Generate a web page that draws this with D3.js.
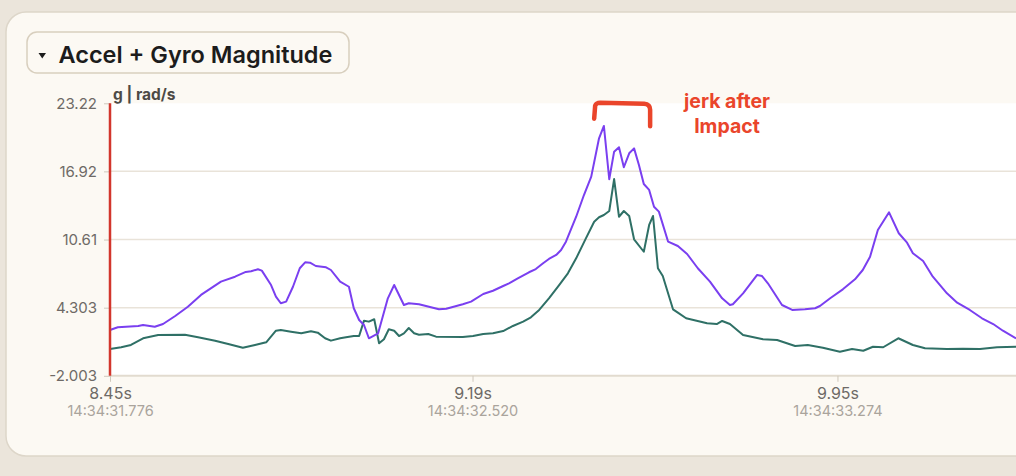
<!DOCTYPE html>
<html><head><meta charset="utf-8">
<script src="https://cdn.jsdelivr.net/npm/d3@7"></script>
<style>
html,body{margin:0;padding:0;background:#ebe5db;overflow:hidden;}
svg{display:block;}
</style></head>
<body><svg id="chart" width="1016" height="476"></svg>
<script>
// ---- data ----
const title = "Accel + Gyro Magnitude";
const unitLabel = "g | rad/s";
const annotationLines = ["jerk after", "Impact"];

const yTicks = [-2.003, 4.303, 10.61, 16.92, 23.22];
const yTickLabels = ["-2.003", "4.303", "10.61", "16.92", "23.22"];
const xTicks = [8.45, 9.195, 9.945];
const xTickLabels = ["8.45s", "9.19s", "9.95s"];
const xClockLabels = ["14:34:31.776", "14:34:32.520", "14:34:33.274"];

// purple series (gyro magnitude)
const gyroT = [8.450,8.466,8.508,8.518,8.542,8.559,8.584,8.610,8.637,8.678,8.707,8.729,8.740,8.754,8.762,8.781,8.791,8.801,8.812,8.826,8.840,8.851,8.861,8.873,8.894,8.904,8.923,8.941,8.951,8.962,8.972,8.982,9.001,9.021,9.034,9.054,9.064,9.085,9.126,9.141,9.175,9.192,9.217,9.237,9.258,9.270,9.288,9.311,9.325,9.340,9.352,9.367,9.377,9.387,9.408,9.424,9.439,9.455,9.465,9.476,9.486,9.496,9.506,9.517,9.527,9.537,9.547,9.558,9.568,9.578,9.597,9.617,9.636,9.658,9.683,9.708,9.724,9.730,9.751,9.780,9.790,9.802,9.831,9.852,9.878,9.899,9.909,9.930,9.956,9.981,9.997,10.012,10.028,10.051,10.071,10.088,10.100,10.121,10.141,10.170,10.191,10.217,10.242,10.265,10.285,10.312];
const gyroV = [2.24,2.49,2.61,2.70,2.54,2.79,3.53,4.39,5.48,6.71,7.17,7.61,7.67,7.86,7.73,6.40,5.32,4.71,4.86,6.24,7.95,8.50,8.47,8.16,8.04,7.79,6.71,6.24,4.25,3.16,2.70,1.47,1.93,5.17,6.40,4.55,4.71,4.62,4.15,4.21,4.62,4.86,5.57,5.87,6.31,6.56,7.02,7.58,7.88,8.41,8.81,9.18,9.64,10.41,12.72,14.73,16.43,19.98,21.12,16.19,18.74,19.15,17.30,18.59,19.05,17.51,15.75,15.20,13.65,13.19,10.41,10.01,9.27,7.95,6.71,5.17,4.55,4.62,5.63,7.33,7.23,6.56,4.55,4.09,4.15,4.25,4.46,5.17,6.00,6.93,7.79,9.02,11.49,13.13,11.19,10.32,9.34,8.62,7.17,5.63,4.76,4.09,3.32,2.79,2.17,1.45];

// teal series (accel magnitude)
const accelT = [8.450,8.473,8.493,8.518,8.549,8.604,8.631,8.666,8.693,8.723,8.748,8.771,8.791,8.801,8.822,8.843,8.863,8.877,8.892,8.904,8.923,8.935,8.951,8.962,8.972,8.982,8.993,9.003,9.013,9.023,9.034,9.044,9.054,9.064,9.075,9.085,9.104,9.120,9.175,9.196,9.217,9.237,9.258,9.278,9.299,9.315,9.332,9.352,9.373,9.391,9.408,9.428,9.445,9.455,9.465,9.476,9.486,9.496,9.506,9.517,9.527,9.547,9.558,9.566,9.576,9.586,9.607,9.617,9.634,9.677,9.697,9.708,9.724,9.751,9.792,9.821,9.858,9.884,9.915,9.950,9.975,9.998,10.018,10.039,10.070,10.100,10.125,10.170,10.203,10.238,10.273,10.312];
const accelV = [0.48,0.64,0.85,1.47,1.77,1.80,1.56,1.25,0.94,0.60,0.85,1.10,2.17,2.24,2.08,1.93,2.12,1.99,1.47,1.25,1.47,1.56,1.68,1.68,3.10,3.01,3.23,1.01,1.38,2.30,2.17,1.68,1.93,2.42,1.93,1.80,1.87,1.62,1.59,1.68,1.87,1.93,2.14,2.61,3.01,3.41,4.09,5.17,6.40,7.48,8.87,10.72,12.26,12.67,12.88,13.25,16.21,12.72,13.25,12.79,10.63,9.48,11.96,12.79,7.95,7.23,4.15,3.84,3.32,2.86,2.79,3.07,2.79,1.77,1.38,1.31,0.76,0.85,0.60,0.23,0.48,0.32,0.69,0.64,1.47,0.85,0.54,0.48,0.51,0.48,0.64,0.69];

// annotation bracket (data coordinates)
const bracketT = [9.445, 9.560];
const bracketV = [21.8, 23.28, 21.1];

// ---- drawing ----
const svg = d3.select("#chart");
const plot = {left: 110, top: 103.3, bottom: 375.8};
const FONT = "Inter, 'Open Sans', sans-serif";

const x = d3.scaleLinear().domain([8.45, 10.32]).range([plot.left, plot.left + 1.87 * 486.6]);
const y = d3.scaleLinear().domain([-2.003, 23.22]).range([plot.bottom, plot.top]);

// card
svg.append("rect").attr("x", 6).attr("y", 12).attr("width", 1040).attr("height", 444)
  .attr("rx", 20).attr("fill", "#fcf9f3").attr("stroke", "#ddd6c9").attr("stroke-width", 1.5);

// title pill
svg.append("rect").attr("x", 27).attr("y", 32).attr("width", 322).attr("height", 41)
  .attr("rx", 10).attr("fill", "#fcf9f3").attr("stroke", "#d8cfbe").attr("stroke-width", 1.5);
svg.append("path").attr("d", "M38.5,53 L46,53 L42.25,58.5 Z").attr("fill", "#1c1c1c");
svg.append("text").attr("x", 58.5).attr("y", 62.5).text(title)
  .attr("font-family", FONT).attr("font-weight", 600)
  .attr("font-size", 23.5).attr("fill", "#1c1c1c");

// plot background
const plotRight = x.range()[1];
svg.append("rect").attr("x", plot.left).attr("y", plot.top)
  .attr("width", plotRight - plot.left).attr("height", plot.bottom - plot.top).attr("fill", "#ffffff");

// grid lines
svg.append("g").selectAll("line").data(yTicks.slice(1, -1)).join("line")
  .attr("x1", plot.left).attr("x2", plotRight)
  .attr("y1", d => y(d)).attr("y2", d => y(d))
  .attr("stroke", "#e9e3d9").attr("stroke-width", 1.5);

// y axis
const yAxis = svg.append("g").attr("transform", `translate(${plot.left},0)`)
  .call(d3.axisLeft(y).tickValues(yTicks).tickFormat((d, i) => yTickLabels[i]).tickSize(6).tickPadding(7));
yAxis.select(".domain").remove();
yAxis.selectAll(".tick line").attr("stroke", "#cfc8bc");
yAxis.selectAll(".tick text").attr("font-family", FONT)
  .attr("font-size", 15).attr("fill", "#6e6a66");

// x axis
const xAxis = svg.append("g").attr("transform", `translate(0,${plot.bottom})`)
  .call(d3.axisBottom(x).tickValues(xTicks).tickFormat((d, i) => xTickLabels[i]).tickSize(6).tickPadding(6));
xAxis.select(".domain").attr("stroke", "#e2dbcf").attr("stroke-width", 2)
  .attr("d", `M${plot.left},0H${plotRight}`);
xAxis.selectAll(".tick line").attr("stroke", "#cfc8bc");
xAxis.selectAll(".tick text").attr("font-family", FONT)
  .attr("font-size", 16).attr("fill", "#6e6a66");
xAxis.selectAll(".tick").append("text")
  .attr("y", 40).attr("text-anchor", "middle")
  .attr("font-family", FONT).attr("font-size", 14.5)
  .attr("fill", "#aaa49c").text((d, i) => xClockLabels[i]);

// unit label
svg.append("text").attr("x", 113).attr("y", 100).text(unitLabel)
  .attr("font-family", FONT).attr("font-weight", 700)
  .attr("font-size", 15.5).attr("fill", "#4d4a46");

// series lines
const line = d3.line().x(d => x(d[0])).y(d => y(d[1]));
const accelData = accelT.map((t, i) => [t, accelV[i]]);
const gyroData = gyroT.map((t, i) => [t, gyroV[i]]);
svg.append("path").datum(accelData).attr("d", line)
  .attr("fill", "none").attr("stroke", "#2f7066").attr("stroke-width", 2).attr("stroke-linejoin", "round");
svg.append("path").datum(gyroData).attr("d", line)
  .attr("fill", "none").attr("stroke", "#7a3ff0").attr("stroke-width", 2).attr("stroke-linejoin", "round");

// red vertical marker at the start
svg.append("line").attr("x1", plot.left).attr("x2", plot.left)
  .attr("y1", plot.top).attr("y2", plot.bottom)
  .attr("stroke", "#d2362c").attr("stroke-width", 2.5);

// annotation bracket
const bx0 = x(bracketT[0]), bx1 = x(bracketT[1]);
svg.append("path")
  .attr("d", `M${bx0},${y(bracketV[0])} L${bx0 + 1},${y(bracketV[1]) + 3}
    Q${bx0 + 2},${y(bracketV[1])} ${bx0 + 6},${y(bracketV[1])}
    L${bx1 - 6},${y(bracketV[1]) + 1}
    Q${bx1},${y(bracketV[1]) + 1.5} ${bx1},${y(bracketV[1]) + 7}
    L${bx1},${y(bracketV[2])}`)
  .attr("fill", "none").attr("stroke", "#ea452b").attr("stroke-width", 4.5).attr("stroke-linecap", "round");

svg.append("g").selectAll("text").data(annotationLines).join("text")
  .attr("x", 727).attr("y", (d, i) => 107.5 + i * 25)
  .attr("text-anchor", "middle")
  .attr("font-family", FONT).attr("font-weight", 700)
  .attr("font-size", 19.5).attr("fill", "#ea452b").text(d => d);
</script>
</body></html>
